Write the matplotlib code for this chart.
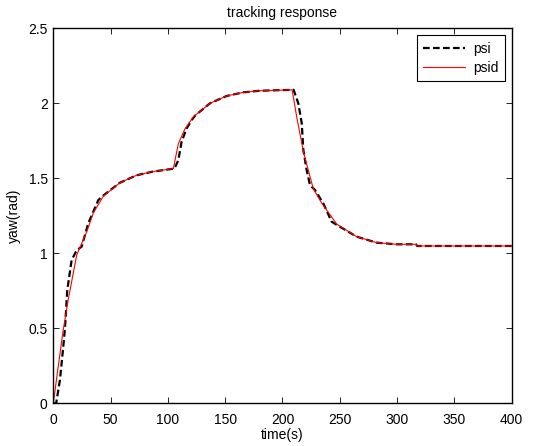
import matplotlib
matplotlib.use('Agg')
import matplotlib.pyplot as plt

# desired yaw (psid) and measured yaw (psi) over time
psid_t = [0, 4.4, 8.5, 13, 20.5, 29, 35, 43.6, 58, 72.6, 87, 104.8,
          109.1, 114.9, 122.2, 136.7, 151.3, 165.8, 180.4, 208.4,
          212.4, 218.2, 222.5, 226.9, 234.2, 247.3, 264.7, 282.2, 299.6,
          316.5, 317.5, 400]
psid_y = [0, 0.25, 0.48, 0.69, 0.99, 1.14, 1.27, 1.38, 1.47, 1.52, 1.545, 1.565,
          1.73, 1.83, 1.91, 2.0, 2.049, 2.073, 2.084, 2.09,
          1.91, 1.68, 1.555, 1.43, 1.335, 1.195, 1.111, 1.071, 1.06,
          1.06, 1.049, 1.049]

psi_t = [0, 2.5, 5.8, 8.7, 10.2, 12.2, 16, 20.4, 24.8, 30.5, 39.3, 43.6, 58,
         72.6, 87, 105.7, 109.1, 112, 116.4, 120.8, 124, 136.7, 151.3, 165.8,
         180.4, 209.7, 213.8, 216.8, 218.2, 221.1, 224, 228.4, 235.6, 242.9,
         247.3, 264.7, 282.2, 299.6, 316.5, 317.5, 400]
psi_y = [0, 0, 0.155, 0.377, 0.5, 0.755, 0.955, 1.02, 1.045, 1.2, 1.355, 1.385, 1.47,
         1.52, 1.545, 1.565, 1.62, 1.745, 1.833, 1.889, 1.92, 2.0, 2.049, 2.073,
         2.084, 2.09, 2.0, 1.867, 1.689, 1.555, 1.455, 1.422, 1.333, 1.211,
         1.19, 1.111, 1.071, 1.06, 1.06, 1.049, 1.049]

xticks = [0, 50, 100, 150, 200, 250, 300, 350, 400]
yticks = [0, 0.5, 1, 1.5, 2, 2.5]
ytick_labels = ['0', '0.5', '1', '1.5', '2', '2.5']

plt.rcParams['font.family'] = ['Liberation Sans', 'DejaVu Sans']
plt.rcParams['font.size'] = 10

fig = plt.figure(figsize=(5.41, 4.46), dpi=100)
ax = fig.add_axes([0.0985, 0.0957, 0.8473, 0.8408])

ax.plot(psi_t, psi_y, color='black', linestyle=(0, (3, 1.5)), linewidth=1.6, label='psi')
ax.plot(psid_t, psid_y, color='red', linewidth=0.8, label='psid')

ax.set_xlim(0, 400)
ax.set_ylim(0, 2.5)
ax.set_xticks(xticks)
ax.set_xticklabels([str(v) for v in xticks])
ax.set_yticks(yticks)
ax.set_yticklabels(ytick_labels)
ax.tick_params(direction='in', length=4, width=0.6, top=True, right=True)
ax.tick_params(axis='x', pad=7)
ax.tick_params(axis='y', pad=4)
for s in ax.spines.values():
    s.set_linewidth(1.0)

ax.set_title('tracking response', fontsize=10, pad=8)
ax.set_xlabel('time(s)', labelpad=1)
ax.set_ylabel('yaw(rad)', labelpad=5)

leg = ax.legend(loc='upper right', fancybox=False, edgecolor='black', framealpha=1,
                handlelength=3.0, borderaxespad=0.5, handletextpad=0.6,
                borderpad=0.45, labelspacing=0.4)
leg.get_frame().set_linewidth(0.8)

fig.savefig('out.png', dpi=100)
